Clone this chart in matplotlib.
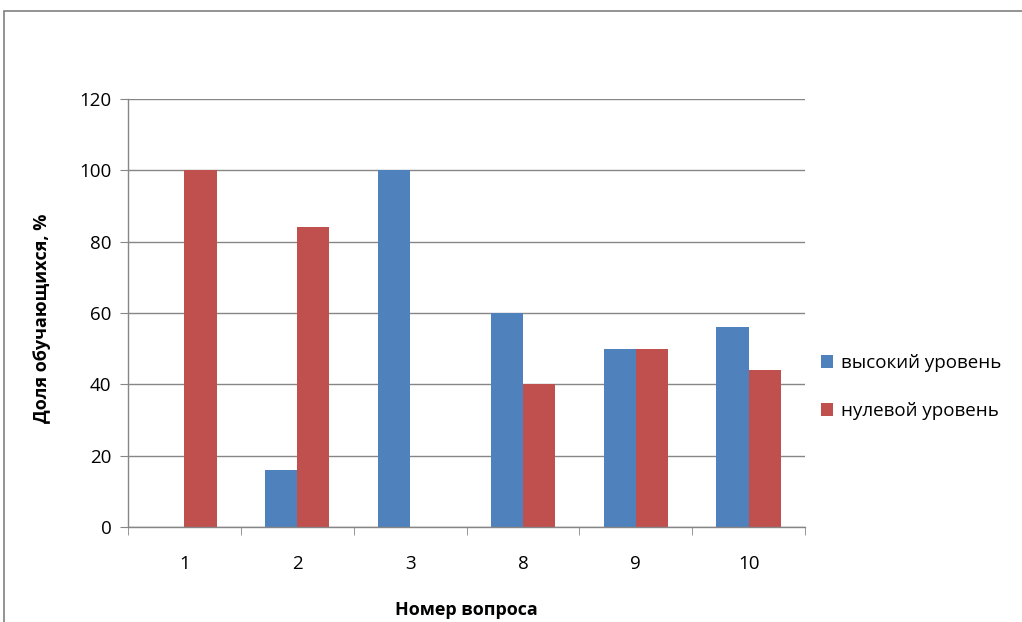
"""Bar chart: share of students by question number."""
import numpy as np
import matplotlib
matplotlib.use("Agg")
import matplotlib.pyplot as plt
from matplotlib.patches import Rectangle

questions = ["1", "2", "3", "8", "9", "10"]
high_level = [0, 16, 100, 60, 50, 56]
zero_level = [100, 84, 0, 40, 50, 44]
series_names = ["высокий уровень", "нулевой уровень"]
yticks = [0, 20, 40, 60, 80, 100, 120]

plt.rcParams["font.family"] = ["Open Sans", "DejaVu Sans"]

W, H = 1022, 622
fig = plt.figure(figsize=(W / 100, H / 100), dpi=100)
ax = fig.add_axes([128 / W, 1 - 527 / H, (805 - 128) / W, (527 - 99) / H])

# outer chart-area border (runs off right / bottom edge)
fig.patches.append(Rectangle((4 / W, -0.1), 1.2, 1 - 11 / H + 0.1,
                             transform=fig.transFigure, fill=False,
                             edgecolor="#808080", linewidth=1.2))

x = np.arange(len(questions))
bw = 1 / 3.5
ax.bar(x - bw / 2, high_level, bw, color="#4f81bd", label=series_names[0], zorder=3)
ax.bar(x + bw / 2, zero_level, bw, color="#c0504d", label=series_names[1], zorder=3)

fs = 13.5
ax.set_xlim(-0.5, len(questions) - 0.5)
ax.set_ylim(0, 120)
ax.set_yticks(yticks)
ax.set_xticks(x)
ax.set_xticklabels(questions)
ax.set_xticks(np.arange(len(questions) + 1) - 0.5, minor=True)
ax.tick_params(axis="x", which="major", length=0, pad=20, labelsize=fs)
ax.tick_params(axis="x", which="minor", length=6, color="#868686", direction="out")
ax.tick_params(axis="y", length=6, color="#868686", labelsize=fs, pad=6)
ax.yaxis.grid(True, color="#868686", linewidth=1)
ax.set_axisbelow(True)
for s in ["top", "right"]:
    ax.spines[s].set_visible(False)
for s in ["left", "bottom"]:
    ax.spines[s].set_color("#868686")
    ax.spines[s].set_linewidth(1)
ax.spines["bottom"].set_zorder(4)

fig.text(42 / W, 1 - 318 / H, "Доля обучающихся, %", rotation=90,
         ha="center", va="center", fontsize=13, fontweight="bold")
fig.text(466 / W, 1 - 610 / H, "Номер вопроса", ha="center", va="center",
         fontsize=13, fontweight="bold")

ax.legend(loc="center left", bbox_to_anchor=(804 / W, 1 - 387 / H),
          bbox_transform=fig.transFigure, frameon=False, fontsize=fs,
          handlelength=0.65, handleheight=0.65, handletextpad=0.4,
          labelspacing=1.6)

fig.savefig("out.png", dpi=100)
